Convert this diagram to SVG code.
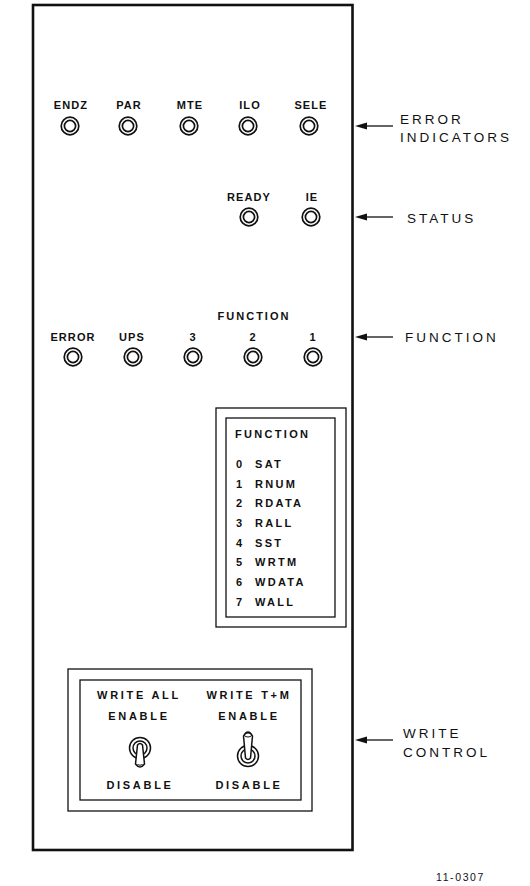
<svg xmlns="http://www.w3.org/2000/svg" width="530" height="886" viewBox="0 0 530 886">
<style>
text{font-family:"Liberation Sans",Arial,sans-serif;fill:#111}
.lbl{font-size:11px;font-weight:bold;letter-spacing:1.1px;text-anchor:middle}
.side{font-size:13.5px;letter-spacing:3px}
.fn{font-size:11px;font-weight:bold;letter-spacing:2.3px}
.wr{font-size:11px;font-weight:bold;letter-spacing:2.7px;text-anchor:middle}
.id{font-size:10.5px;letter-spacing:1.6px}
.box{fill:none;stroke:#111;stroke-width:1.3}
.lamp circle{fill:none;stroke:#111;stroke-width:1.7}
.arr line{stroke:#111;stroke-width:1.3}
.arr polygon{fill:#111}
.tg{fill:#fff;stroke:#111;stroke-width:1.5}
</style>
<defs>
<g id="lampShape" class="lamp"><circle r="8.8"/><circle r="5.6"/></g>
</defs>
<g id="panel"><rect x="33" y="5" width="319.5" height="845" fill="none" stroke="#111" stroke-width="2.6"/></g>

<g id="error-indicators">
<text class="lbl" x="71" y="109">ENDZ</text>
<text class="lbl" x="129" y="109">PAR</text>
<text class="lbl" x="190" y="109">MTE</text>
<text class="lbl" x="250" y="109">ILO</text>
<text class="lbl" x="311" y="109">SELE</text>
<use href="#lampShape" x="70" y="126"/>
<use href="#lampShape" x="128" y="126"/>
<use href="#lampShape" x="189" y="126"/>
<use href="#lampShape" x="248" y="126"/>
<use href="#lampShape" x="309" y="126"/>
</g>

<g id="status">
<text class="lbl" x="249" y="201">READY</text>
<text class="lbl" x="312" y="201">IE</text>
<use href="#lampShape" x="249" y="217"/>
<use href="#lampShape" x="311" y="217"/>
</g>

<g id="function-lamps">
<text class="lbl" x="254" y="320" style="letter-spacing:2px">FUNCTION</text>
<text class="lbl" x="73" y="341">ERROR</text>
<text class="lbl" x="132" y="341">UPS</text>
<text class="lbl" x="193" y="341">3</text>
<text class="lbl" x="253" y="341">2</text>
<text class="lbl" x="313" y="341">1</text>
<use href="#lampShape" x="73" y="357"/>
<use href="#lampShape" x="133" y="357"/>
<use href="#lampShape" x="193" y="357"/>
<use href="#lampShape" x="253" y="357"/>
<use href="#lampShape" x="313" y="357"/>
</g>

<g id="function-table">
<rect class="box" x="216" y="408" width="130" height="219"/>
<rect class="box" x="226" y="418" width="109" height="199"/>
<text class="fn" x="235" y="438">FUNCTION</text>
<text class="fn" x="236" y="468">0</text><text class="fn" x="255" y="468">SAT</text>
<text class="fn" x="236" y="488">1</text><text class="fn" x="255" y="488">RNUM</text>
<text class="fn" x="236" y="507">2</text><text class="fn" x="255" y="507">RDATA</text>
<text class="fn" x="236" y="527">3</text><text class="fn" x="255" y="527">RALL</text>
<text class="fn" x="236" y="547">4</text><text class="fn" x="255" y="547">SST</text>
<text class="fn" x="236" y="566">5</text><text class="fn" x="255" y="566">WRTM</text>
<text class="fn" x="236" y="586">6</text><text class="fn" x="255" y="586">WDATA</text>
<text class="fn" x="236" y="606">7</text><text class="fn" x="255" y="606">WALL</text>
</g>

<g id="write-control">
<rect class="box" x="68" y="669" width="244" height="142"/>
<rect class="box" x="80" y="680" width="221" height="120"/>
<text class="wr" x="139" y="699">WRITE ALL</text>
<text class="wr" x="249" y="699">WRITE T+M</text>
<text class="wr" x="139" y="720">ENABLE</text>
<text class="wr" x="249" y="720">ENABLE</text>
<text class="wr" x="140" y="789">DISABLE</text>
<text class="wr" x="249" y="789">DISABLE</text>
<g id="toggle-write-all">
<circle class="tg" cx="140" cy="748" r="10.5"/>
<circle class="tg" cx="140" cy="748" r="7"/>
<path class="tg" d="M137.5,745 L135.5,764 Q140,770 144.5,764 L142.5,745 Q140,742 137.5,745 Z"/>
<path d="M137.5,764.5 Q140,766 142.5,764.5" fill="none" stroke="#111" stroke-width="1"/>
</g>
<g id="toggle-write-tm">
<circle class="tg" cx="248" cy="756" r="10.5"/>
<circle class="tg" cx="248" cy="756" r="7"/>
<path class="tg" d="M245.5,758 L243.5,736 Q248,728 252.5,736 L250.5,758 Q248,761 245.5,758 Z"/>
<ellipse cx="248" cy="735" rx="3.6" ry="2" fill="none" stroke="#111" stroke-width="1"/>
</g>
</g>

<g id="connectors" class="arr">
<line x1="393" y1="126" x2="362" y2="126"/><polygon points="355,126 367,122.5 367,129.5"/>
<line x1="393" y1="217" x2="362" y2="217"/><polygon points="355,217 367,213.5 367,220.5"/>
<line x1="393" y1="337" x2="362" y2="337"/><polygon points="355,337 367,333.5 367,340.5"/>
<line x1="393" y1="740" x2="362" y2="740"/><polygon points="355,740 367,736.5 367,743.5"/>
</g>

<g id="side-labels">
<text class="side" x="400" y="124">ERROR</text>
<text class="side" x="400" y="142">INDICATORS</text>
<text class="side" x="407" y="223">STATUS</text>
<text class="side" x="405" y="342">FUNCTION</text>
<text class="side" x="403" y="738">WRITE</text>
<text class="side" x="403" y="757">CONTROL</text>
</g>
<text class="id" x="436" y="881">11-0307</text>
</svg>
